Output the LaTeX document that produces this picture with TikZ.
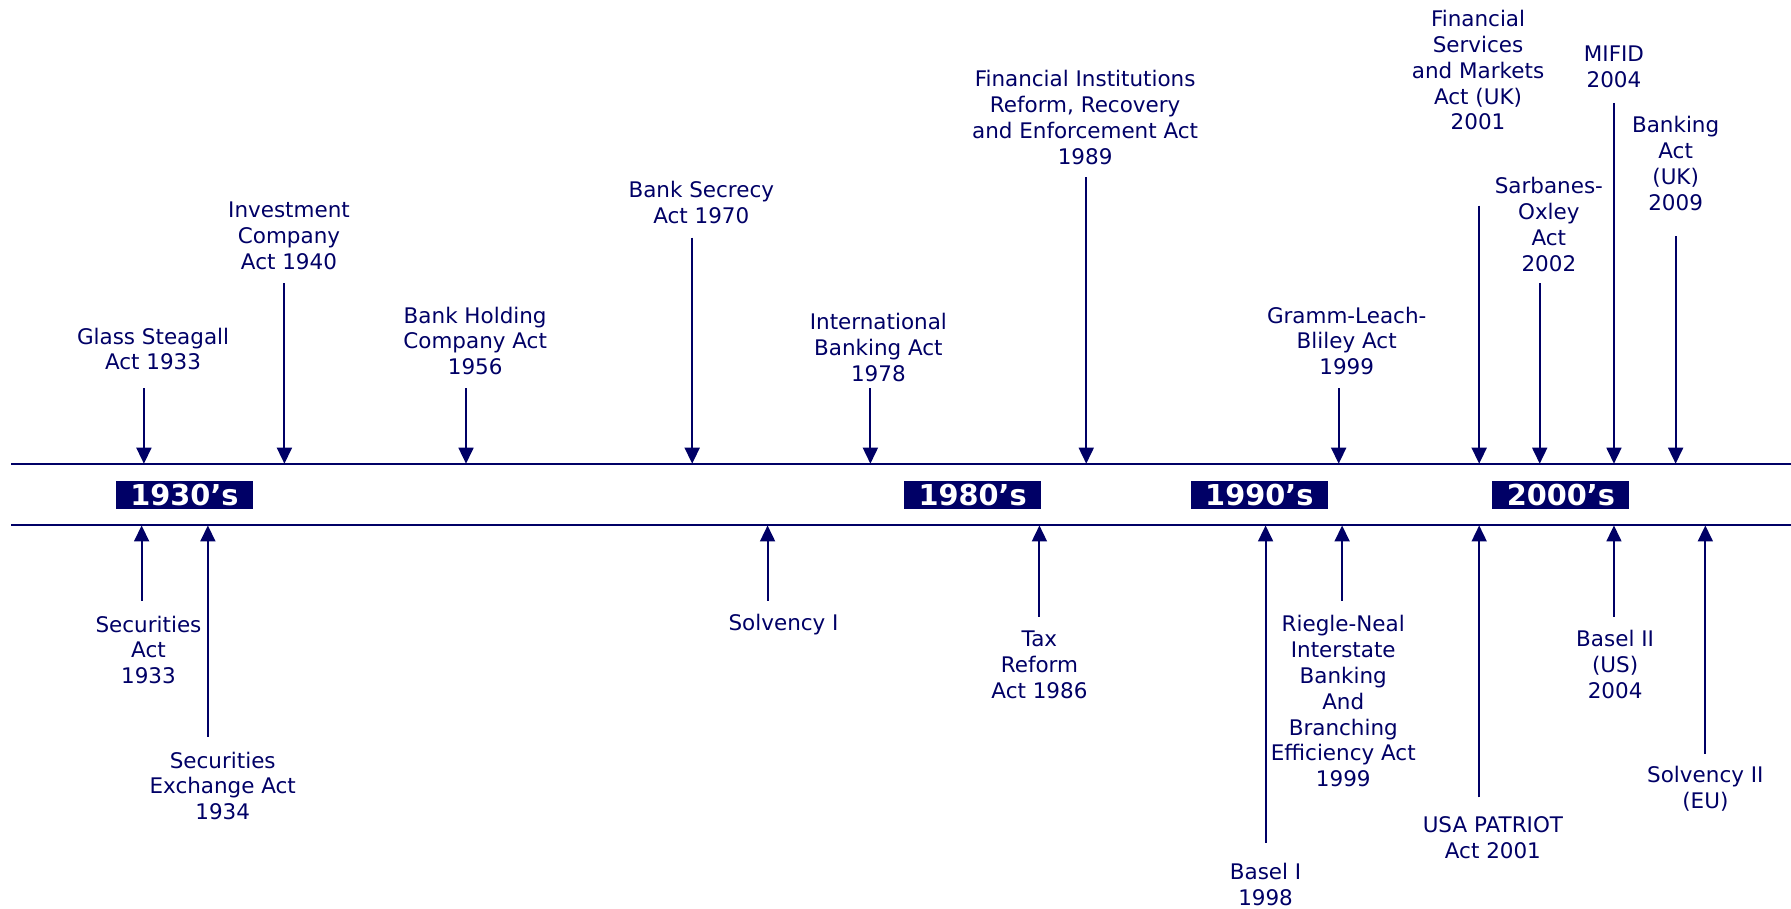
\documentclass[tikz,border=0pt]{standalone}
\usepackage{fontspec}
\setmainfont{DejaVu Sans}
\usetikzlibrary{arrows.meta}
\definecolor{navy}{RGB}{0,0,102}
\begin{document}
\begin{tikzpicture}[x=0.5pt,y=-0.5pt,
 lbl/.style={text=navy, align=center, inner sep=0pt, font=\fontsize{9.4}{11.3}\selectfont},
 conn/.style={draw=navy, line width=0.9pt, -{Triangle[width=6.5pt,length=7pt]}},
 axisline/.style={draw=navy, line width=0.9pt},
 decade/.style={fill=navy, text=white, minimum width=60pt, minimum height=12.5pt, inner sep=0pt, font=\fontsize{12.6}{13}\selectfont\bfseries}]
\useasboundingbox (0,0) rectangle (1568,795);
% timeline
\coordinate (ul0) at (10,406); \coordinate (ul1) at (1568,406);
\coordinate (ll0) at (10,460); \coordinate (ll1) at (1568,460);
\draw[axisline] (ul0) -- (ul1);
\draw[axisline] (ll0) -- (ll1);
% decades
\node[decade] (d30) at (161.5,433.5) {1930’s};
\node[decade] (d80) at (851.5,433.5) {1980’s};
\node[decade] (d90) at (1102.5,433.5) {1990’s};
\node[decade] (d00) at (1366.5,433.5) {2000’s};
% top labels
\node[lbl] (gs) at (134,305.5) {Glass Steagall\\Act 1933};
\node[lbl] (ic) at (253,206.5) {Investment\\Company\\Act 1940};
\node[lbl] (bh) at (416,298.5) {Bank Holding\\Company Act\\1956};
\node[lbl] (bs) at (614,177.5) {Bank Secrecy\\Act 1970};
\node[lbl] (ib) at (769,304) {International\\Banking Act\\1978};
\node[lbl] (fi) at (950,103) {Financial Institutions\\Reform, Recovery\\and Enforcement Act\\1989};
\node[lbl] (gl) at (1179,298.5) {Gramm-Leach-\\Bliley Act\\1999};
\node[lbl] (fs) at (1294,61.5) {Financial\\Services\\and Markets\\Act (UK)\\2001};
\node[lbl] (so) at (1356,196.5) {Sarbanes-\\Oxley\\Act\\2002};
\node[lbl] (mi) at (1413,58.5) {MIFID\\2004};
\node[lbl] (ba) at (1467,143) {Banking\\Act\\(UK)\\2009};
% top arrows
\coordinate (gsa) at (126,340); \coordinate (gsb) at (126,406);
\coordinate (ica) at (249,248); \coordinate (icb) at (249,406);
\coordinate (bha) at (408,340); \coordinate (bhb) at (408,406);
\coordinate (bsa) at (606,208); \coordinate (bsb) at (606,406);
\coordinate (iba) at (762,340); \coordinate (ibb) at (762,406);
\coordinate (fia) at (951,155); \coordinate (fib) at (951,406);
\coordinate (gla) at (1172,340); \coordinate (glb) at (1172,406);
\coordinate (fsa) at (1295,180); \coordinate (fsb) at (1295,406);
\coordinate (soa) at (1348,248); \coordinate (sob) at (1348,406);
\coordinate (mia) at (1413,90); \coordinate (mib) at (1413,406);
\coordinate (baa) at (1467,207); \coordinate (bab) at (1467,406);
\foreach \n in {gs,ic,bh,bs,ib,fi,gl,fs,so,mi,ba}{\draw[conn] (\n a) -- (\n b);}
% bottom labels
\node[lbl] (sa) at (130,569) {Securities\\Act\\1933};
\node[lbl] (se) at (195,688) {Securities\\Exchange Act\\1934};
\node[lbl] (si) at (686,547) {Solvency I};
\node[lbl] (tr) at (910,582) {Tax\\Reform\\Act 1986};
\node[lbl] (bo) at (1108,774.5) {Basel I\\1998};
\node[lbl] (rn) at (1176,614) {Riegle-Neal\\Interstate\\Banking\\And\\Branching\\Efficiency Act\\1999};
\node[lbl] (up) at (1307,733.5) {USA PATRIOT\\Act 2001};
\node[lbl] (bt) at (1414,582) {Basel II\\(US)\\2004};
\node[lbl] (sv) at (1493,690.5) {Solvency II\\(EU)};
% bottom arrows
\coordinate (saa) at (124,526); \coordinate (sab) at (124,460);
\coordinate (sea) at (182,645); \coordinate (seb) at (182,460);
\coordinate (sia) at (672,526); \coordinate (sib) at (672,460);
\coordinate (tra) at (910,540); \coordinate (trb) at (910,460);
\coordinate (boa) at (1108,738); \coordinate (bob) at (1108,460);
\coordinate (rna) at (1175,526); \coordinate (rnb) at (1175,460);
\coordinate (upa) at (1295,698); \coordinate (upb) at (1295,460);
\coordinate (bta) at (1413,540); \coordinate (btb) at (1413,460);
\coordinate (sva) at (1493,660); \coordinate (svb) at (1493,460);
\foreach \n in {sa,se,si,tr,bo,rn,up,bt,sv}{\draw[conn] (\n a) -- (\n b);}
\end{tikzpicture}
\end{document}
